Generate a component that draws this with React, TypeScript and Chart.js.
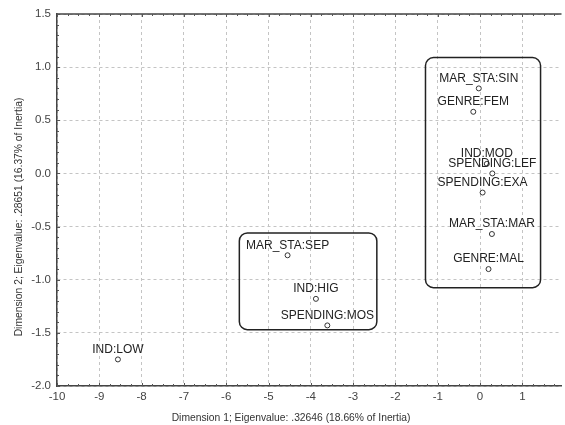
import React, { useEffect, useRef } from "react";
import { Chart, registerables } from "chart.js";

Chart.register(...registerables);

// Category labels and their coordinates on the two dimensions
const pointLabels = [
  "MAR_STA:SIN",
  "GENRE:FEM",
  "IND:MOD",
  "SPENDING:LEF",
  "SPENDING:EXA",
  "MAR_STA:MAR",
  "GENRE:MAL",
  "MAR_STA:SEP",
  "IND:HIG",
  "SPENDING:MOS",
  "IND:LOW",
];
const dim1 = [-0.03, -0.16, 0.16, 0.29, 0.06, 0.28, 0.2, -4.55, -3.88, -3.61, -8.56];
const dim2 = [0.8, 0.58, 0.09, 0.0, -0.18, -0.57, -0.9, -0.77, -1.18, -1.43, -1.75];

// Rounded grouping boxes (data coordinates)
const boxLeft = [-1.29, -5.69];
const boxRight = [1.43, -2.44];
const boxTop = [1.09, -0.56];
const boxBottom = [-1.075, -1.47];

// Axis ticks
const xTicks = [-10, -9, -8, -7, -6, -5, -4, -3, -2, -1, 0, 1];
const yTicks = [1.5, 1.0, 0.5, 0.0, -0.5, -1.0, -1.5, -2.0];

const xTitle = "Dimension 1; Eigenvalue: .32646 (18.66% of Inertia)";
const yTitle = "Dimension 2; Eigenvalue: .28651 (16.37% of Inertia)";

const FONT = "'Liberation Sans', Arial, sans-serif";

const overlayPlugin = {
  id: "overlay",
  beforeDatasetsDraw(chart: any) {
    const { ctx, chartArea, scales } = chart;
    const xs = scales.x;
    const ys = scales.y;
    ctx.save();
    // boxes
    ctx.strokeStyle = "#222";
    ctx.lineWidth = 1.5;
    for (let i = 0; i < boxLeft.length; i++) {
      const l = xs.getPixelForValue(boxLeft[i]);
      const r = xs.getPixelForValue(boxRight[i]);
      const t = ys.getPixelForValue(boxTop[i]);
      const b = ys.getPixelForValue(boxBottom[i]);
      ctx.beginPath();
      (ctx as any).roundRect(l, t, r - l, b - t, 8);
      ctx.stroke();
    }
    // top border line
    ctx.strokeStyle = "#444";
    ctx.lineWidth = 1.5;
    ctx.beginPath();
    ctx.moveTo(chartArea.left, chartArea.top);
    ctx.lineTo(chartArea.right, chartArea.top);
    ctx.stroke();
    // minor ticks
    ctx.lineWidth = 1;
    ctx.strokeStyle = "#555";
    ctx.beginPath();
    for (let v = -10; v <= 2; v += 0.25) {
      const px = Math.round(xs.getPixelForValue(v)) + 0.5;
      if (px > chartArea.right) break;
      const len = Math.abs(v - Math.round(v)) < 1e-6 ? 3 : 2;
      ctx.moveTo(px, chartArea.bottom);
      ctx.lineTo(px, chartArea.bottom - len);
      ctx.moveTo(px, chartArea.top);
      ctx.lineTo(px, chartArea.top + len);
    }
    for (let k = -20; k <= 15; k++) {
      const v = k / 10;
      const py = Math.round(ys.getPixelForValue(v)) + 0.5;
      const len = k % 5 === 0 ? 3 : 2;
      ctx.moveTo(chartArea.left, py);
      ctx.lineTo(chartArea.left + len, py);
    }
    ctx.stroke();
    ctx.restore();
  },
  afterDatasetsDraw(chart: any) {
    const { ctx, scales } = chart;
    const xs = scales.x;
    const ys = scales.y;
    ctx.save();
    ctx.font = `12px ${FONT}`;
    ctx.fillStyle = "#222";
    ctx.textAlign = "center";
    ctx.textBaseline = "middle";
    for (let i = 0; i < pointLabels.length; i++) {
      const px = xs.getPixelForValue(dim1[i]);
      const py = ys.getPixelForValue(dim2[i]);
      ctx.fillText(pointLabels[i], px, py - 10);
    }
    ctx.restore();
  },
  afterDraw(chart: any) {
    const { ctx } = chart;
    ctx.save();
    ctx.font = `10.3px ${FONT}`;
    ctx.fillStyle = "#333";
    ctx.textAlign = "center";
    ctx.textBaseline = "middle";
    ctx.fillText(xTitle, 291, 418);
    ctx.translate(19, 217);
    ctx.rotate(-Math.PI / 2);
    ctx.fillText(yTitle, 0, 0);
    ctx.restore();
  },
};

export default function App() {
  const ref = useRef<HTMLCanvasElement | null>(null);
  useEffect(() => {
    if (!ref.current) return;
    const chart = new Chart(ref.current, {
      type: "scatter",
      data: {
        datasets: [
          {
            data: dim1.map((x, i) => ({ x, y: dim2[i] })),
            pointRadius: 2.5,
            pointBorderWidth: 1,
            borderColor: "#333",
            backgroundColor: "#fff",
            pointHoverRadius: 2.5,
          },
        ],
      },
      options: {
        animation: false,
        responsive: false,
        maintainAspectRatio: false,
        layout: { padding: { top: 14, right: 0, left: 0, bottom: 0 } },
        plugins: {
          legend: { display: false },
          tooltip: { enabled: false },
        },
        scales: {
          x: {
            type: "linear",
            min: -10,
            max: 1.925,
            afterBuildTicks: (s: any) => {
              s.ticks = xTicks.map((v) => ({ value: v }));
            },
            afterFit: (s: any) => {
              s.height = 39;
            },
            ticks: {
              font: { size: 11.5, family: FONT },
              color: "#444",
              padding: 4,
              maxRotation: 0,
              autoSkip: false,
              callback: (v: any) => String(v),
            },
            grid: { color: "#c4c4c4", lineWidth: 1, drawTicks: false },
            border: { display: true, color: "#444", width: 1.5, dash: [3, 3] },
          },
          y: {
            type: "linear",
            min: -2,
            max: 1.5,
            afterBuildTicks: (s: any) => {
              s.ticks = yTicks.map((v) => ({ value: v }));
            },
            afterFit: (s: any) => {
              s.width = 57;
            },
            ticks: {
              font: { size: 11.5, family: FONT },
              color: "#444",
              padding: 6,
              autoSkip: false,
              callback: (v: any) => Number(v).toFixed(1),
            },
            grid: { color: "#c4c4c4", lineWidth: 1, drawTicks: false },
            border: { display: true, color: "#444", width: 1.5, dash: [3, 3] },
          },
        },
      },
      plugins: [overlayPlugin],
    } as any);
    return () => chart.destroy();
  }, []);
  return (
    <div style={{ position: "absolute", left: 0, top: 0, width: 565, height: 425, background: "#fff" }}>
      <canvas ref={ref} width={565} height={425} style={{ display: "block" }} />
    </div>
  );
}
